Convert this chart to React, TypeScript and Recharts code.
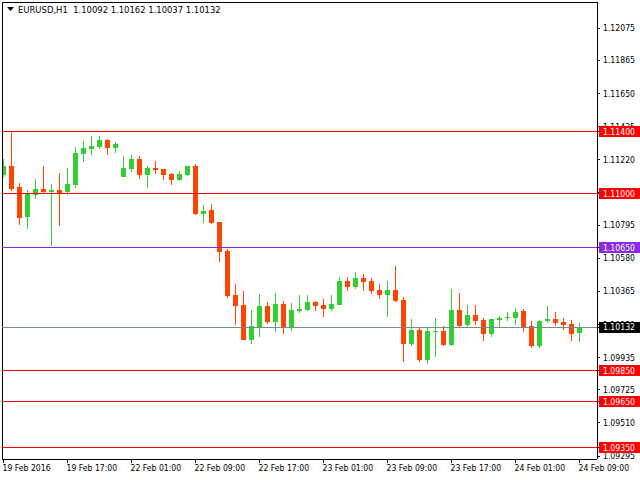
import React from "react";
import { ComposedChart, Bar, XAxis, YAxis, ReferenceLine } from "recharts";

// EURUSD H1 candles, 19 Feb 2016 09:00 .. 24 Feb 2016 09:00
const opens = [
  1.1112, 1.11179, 1.11042, 1.10849, 1.10992, 1.11029, 1.11012, 1.11023, 1.1101, 1.11057,
  1.11259, 1.11291, 1.11304, 1.11348, 1.11298, 1.11109, 1.11161, 1.11224, 1.11122, 1.11166,
  1.11159, 1.11127, 1.11088, 1.11122, 1.11179, 1.10869, 1.10893, 1.10815, 1.10627, 1.10341,
  1.10276, 1.10051, 1.10133, 1.10269, 1.10165, 1.10282, 1.10133, 1.10237, 1.10243, 1.10295,
  1.10276, 1.10252, 1.10278, 1.10432, 1.10395, 1.10451, 1.10432, 1.10373, 1.10343, 1.10373,
  1.10308, 1.10025, 1.10114, 1.09921, 1.10101, 1.10107, 1.10018, 1.10243, 1.10148, 1.10211,
  1.10178, 1.10089, 1.10178, 1.10191, 1.10191, 1.10237, 1.1014, 1.10012, 1.10172, 1.10185,
  1.10165, 1.10152, 1.10092,
];
const highs = [
  1.11224, 1.114, 1.11068, 1.11023, 1.11094, 1.11179, 1.11062, 1.11133, 1.11166, 1.11302,
  1.11341, 1.11374, 1.11374, 1.11354, 1.11335, 1.11244, 1.1125, 1.11244, 1.11179, 1.11211,
  1.11162, 1.11133, 1.11146, 1.11182, 1.11192, 1.10925, 1.10932, 1.10818, 1.1064, 1.10412,
  1.10367, 1.10243, 1.10347, 1.10295, 1.10354, 1.10302, 1.10289, 1.10341, 1.10341, 1.10302,
  1.10315, 1.10341, 1.10458, 1.10458, 1.1049, 1.10477, 1.10451, 1.10412, 1.10432, 1.10529,
  1.10328, 1.10185, 1.10127, 1.10127, 1.10191, 1.1014, 1.1038, 1.10354, 1.10276, 1.10276,
  1.10191, 1.10187, 1.10204, 1.1023, 1.10256, 1.1025, 1.10172, 1.10178, 1.10269, 1.1023,
  1.10191, 1.10178, 1.10162,
];
const lows = [
  1.11107, 1.11018, 1.10797, 1.10771, 1.10966, 1.11005, 1.10661, 1.10791, 1.10992, 1.11038,
  1.11205, 1.11252, 1.11291, 1.11252, 1.11265, 1.11109, 1.11142, 1.11096, 1.11038, 1.11129,
  1.1109, 1.11057, 1.11083, 1.11116, 1.10862, 1.1081, 1.10804, 1.10557, 1.10323, 1.10148,
  1.10048, 1.10025, 1.1007, 1.10154, 1.10102, 1.10089, 1.10109, 1.10226, 1.10239, 1.10239,
  1.102, 1.10239, 1.10276, 1.10369, 1.10382, 1.10369, 1.10349, 1.10317, 1.102, 1.10297,
  1.09908, 1.10012, 1.09908, 1.09895, 1.0994, 1.10012, 1.10012, 1.10128, 1.10128, 1.10148,
  1.10044, 1.1007, 1.10128, 1.10172, 1.10146, 1.10102, 1.09999, 1.09999, 1.10159, 1.1014,
  1.10114, 1.10044, 1.10037,
];
const closes = [
  1.11179, 1.11029, 1.10843, 1.11001, 1.11029, 1.11012, 1.11023, 1.11003, 1.11062, 1.11263,
  1.11296, 1.11309, 1.11348, 1.11298, 1.11322, 1.11166, 1.11224, 1.11122, 1.11166, 1.11155,
  1.11122, 1.1109, 1.11127, 1.11179, 1.10869, 1.10886, 1.1081, 1.10622, 1.10336, 1.10271,
  1.10051, 1.1014, 1.10269, 1.10165, 1.10282, 1.10133, 1.10243, 1.1025, 1.10295, 1.10271,
  1.10252, 1.10282, 1.10432, 1.10395, 1.10451, 1.10427, 1.10369, 1.10343, 1.10373, 1.10304,
  1.10025, 1.10114, 1.09921, 1.10107, 1.10107, 1.10018, 1.10243, 1.10141, 1.10211, 1.10172,
  1.10089, 1.10185, 1.10191, 1.10198, 1.1023, 1.10133, 1.10012, 1.10172, 1.10185, 1.10159,
  1.10148, 1.10089, 1.10132,
];

const xTickIndex = [0, 8, 16, 24, 32, 40, 48, 56, 64, 72];
const xTickLabels = [
  "19 Feb 2016", "19 Feb 17:00", "22 Feb 01:00", "22 Feb 09:00", "22 Feb 17:00",
  "23 Feb 01:00", "23 Feb 09:00", "23 Feb 17:00", "24 Feb 01:00", "24 Feb 09:00",
];
const yTicks = [
  1.12075, 1.11865, 1.1165, 1.11435, 1.1122, 1.11005, 1.10795, 1.1058, 1.10365, 1.1015,
  1.09935, 1.09725, 1.0951, 1.09295,
];
const levelValues = [1.114, 1.11, 1.1065, 1.10132, 1.0985, 1.0965, 1.0935];
const levelColors = ["#FF0000", "#FF0000", "#8A2BE2", "#778899", "#FF0000", "#FF0000", "#FF0000"];
const levelBoxColors = ["#FF0000", "#FF0000", "#8A2BE2", "#000000", "#FF0000", "#FF0000", "#FF0000"];

const symbolTitle = "EURUSD,H1";
const ohlcTitle = [1.10092, 1.10162, 1.10037, 1.10132];

const UP = "#32CD32";
const DOWN = "#FF4500";
const FONT = "'DejaVu Sans Condensed', 'DejaVu Sans', sans-serif";
const FS = 8.6;
const Y_DOMAIN: [number, number] = [1.09276, 1.12244];

const data = opens.map((o, i) => ({
  i,
  open: o,
  high: highs[i],
  low: lows[i],
  close: closes[i],
  range: [lows[i], highs[i]],
}));

const Candle = (props: any) => {
  const { x, y, width, height, payload } = props;
  if (x == null || y == null || !payload) return null;
  const top = Math.min(y, y + height);
  const h = Math.abs(height);
  const span = payload.high - payload.low;
  const k = span > 0 ? h / span : 0;
  const yO = top + (payload.high - payload.open) * k;
  const yC = top + (payload.high - payload.close) * k;
  const up = payload.close >= payload.open;
  const color = up ? UP : DOWN;
  const cx = Math.floor(x + width / 2) + 0.5;
  const bTop = Math.min(yO, yC);
  const bH = Math.max(1, Math.abs(yO - yC));
  return (
    <g>
      <line x1={cx} x2={cx} y1={top} y2={top + h} stroke={color} strokeWidth={1} />
      <rect x={cx - 2.5} y={bTop} width={5} height={bH} fill={color} />
    </g>
  );
};

// Price-axis tick: plain price text, or (for the horizontal levels, listed last so drawn on top) a coloured box
const PriceTick = (props: any) => {
  const { x, y, payload } = props;
  const v = payload.value;
  const k = levelValues.indexOf(v);
  if (k < 0) {
    return (
      <text x={x} y={y} dy="0.36em" textAnchor="start" fill="#000" fontSize={FS} fontFamily={FONT}>
        {v.toFixed(5)}
      </text>
    );
  }
  return (
    <g>
      <rect x={x - 4} y={y - 5.5} width={44} height={11} fill={levelBoxColors[k]} />
      <text x={x} y={y} dy="0.36em" textAnchor="start" fill="#FFFFFF" fontSize={FS} fontFamily={FONT}>
        {v.toFixed(5)}
      </text>
    </g>
  );
};

const XTick = (props: any) => {
  const { x, y, payload } = props;
  const idx = xTickIndex.indexOf(payload.value);
  return (
    <text x={x - 1} y={y} dy="0.71em" textAnchor="start" fill="#000" fontSize={FS} fontFamily={FONT}>
      {idx >= 0 ? xTickLabels[idx] : ""}
    </text>
  );
};

export default function App() {
  return (
    <div style={{ position: "absolute", left: 0, top: 0, width: 640, height: 480, background: "#fff" }}>
      <style>{`svg line, svg rect, svg path { shape-rendering: crispEdges; }`}</style>
      <ComposedChart
        width={640}
        height={480}
        data={data}
        margin={{ top: 2, right: 0, bottom: 0, left: 2 }}
      >
        <XAxis
          type="number"
          dataKey="i"
          domain={[-0.1875, 74.1875]}
          allowDataOverflow
          ticks={xTickIndex}
          interval={0}
          height={21}
          axisLine={{ stroke: "#000" }}
          tickLine={{ stroke: "#000" }}
          tickSize={4}
          tickMargin={2}
          tick={<XTick />}
        />
        <YAxis
          orientation="right"
          type="number"
          domain={Y_DOMAIN}
          allowDataOverflow
          ticks={[...yTicks, ...levelValues]}
          interval={0}
          width={43}
          axisLine={{ stroke: "#000" }}
          tickLine={{ stroke: "#000" }}
          tickSize={3}
          tickMargin={3}
          tick={<PriceTick />}
        />
        <ReferenceLine y={Y_DOMAIN[1]} stroke="#000" />
        <ReferenceLine x={-0.1875} stroke="#000" />
        <Bar dataKey="range" barSize={5} isAnimationActive={false} shape={<Candle />} />
        {levelValues.map((v, k) => (
          <ReferenceLine key={k} y={v} stroke={levelColors[k]} strokeWidth={1} />
        ))}
      </ComposedChart>
      <div
        style={{
          position: "absolute",
          left: 7,
          top: 4,
          fontFamily: FONT,
          fontSize: 9.4,
          color: "#000",
          whiteSpace: "pre",
          display: "flex",
          alignItems: "center",
          lineHeight: "12px",
        }}
      >
        <svg width={8} height={6} style={{ marginRight: 3 }}>
          <polygon points="0,0 7,0 3.5,4" fill="#000" />
        </svg>
        <span>{symbolTitle + "  " + ohlcTitle.map((v) => v.toFixed(5)).join(" ")}</span>
      </div>
    </div>
  );
}
